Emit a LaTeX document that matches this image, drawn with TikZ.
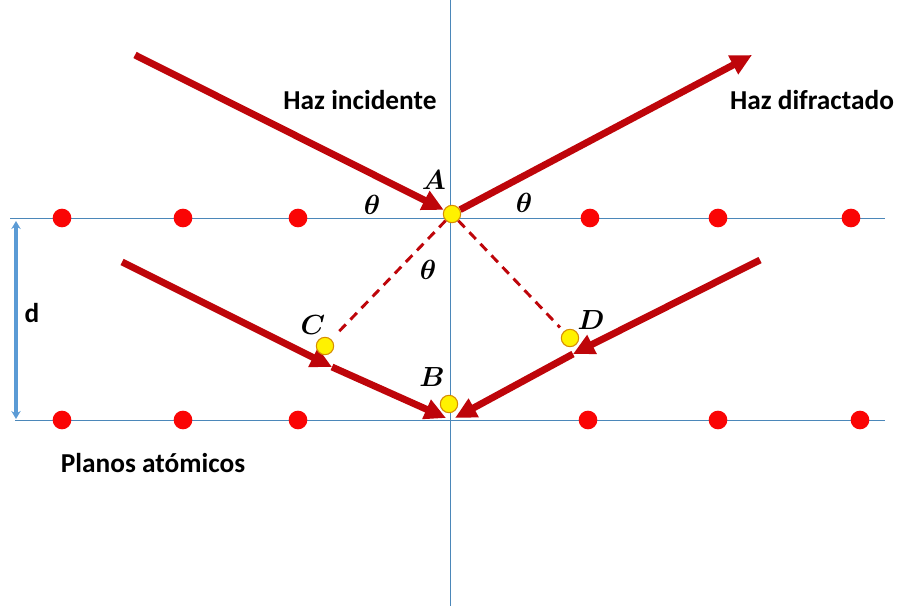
\documentclass[tikz,border=0pt]{standalone}
\usepackage{amsmath}
\usepackage{fontspec}
\setsansfont{Carlito}
\usetikzlibrary{arrows.meta}
\definecolor{rayRed}{RGB}{190,5,10}
\definecolor{dotRed}{RGB}{250,5,5}
\definecolor{planeBlue}{RGB}{75,135,185}
\definecolor{dBlue}{RGB}{91,155,213}
\definecolor{ptYellow}{RGB}{255,242,0}
\definecolor{ptEdge}{RGB}{215,140,0}
\pgfdeclarelayer{back}
\pgfsetlayers{back,main}

\begin{document}
\begin{tikzpicture}[x=0.75pt, y=-0.75pt,
  lbl/.style={font=\sffamily\bfseries\fontsize{20.5}{24}\selectfont},
  sym/.style={font=\fontsize{21}{24}\selectfont},
  atom/.style={circle, fill=dotRed, minimum size=14pt, inner sep=0pt},
  pt/.style={circle, fill=ptYellow, draw=ptEdge, line width=0.8pt, minimum size=13pt, inner sep=0pt},
  ray/.style={rayRed, line width=5.2pt, -{Triangle[length=16pt,width=15pt]}},
  diff/.style={rayRed, line width=2.2pt, dash pattern=on 7pt off 5pt},
  plane/.style={planeBlue, line width=0.6pt},
]
  \useasboundingbox (0,0) rectangle (901,606);

  % reflection points
  \node[pt] (A) at (452,214) {};
  \node[pt] (B) at (449,404) {};
  \node[pt] (C) at (325,346) {};
  \node[pt] (D) at (570,338) {};

  % atoms
  \foreach \x [count=\i] in {62,183,298,590,718,851}
    \node[atom] (t\i) at (\x,218) {};
  \foreach \x [count=\i] in {62,183,298,588,718,860}
    \node[atom] (b\i) at (\x,420) {};

  \coordinate (inS) at (135,55);
  \coordinate (outE) at (752,55);
  \coordinate (lowL) at (122,262);
  \coordinate (lowR) at (760,260);
  \coordinate (cTip) at (332,367);
  \coordinate (dTip) at (573,354);
  \coordinate (bL) at (446,418);
  \coordinate (bR) at (455,418);
  \coordinate (topL) at (10,218);
  \coordinate (topR) at (885,218);
  \coordinate (botL) at (15,420);
  \coordinate (botR) at (885,420);
  \coordinate (axT) at (450,0);
  \coordinate (axB) at (450,606);
  \coordinate (dT) at (16,221);
  \coordinate (dB) at (16,419);

  \begin{pgfonlayer}{back}
    \draw[plane] (topL) -- (topR);
    \draw[plane] (botL) -- (botR);
    \draw[plane] (axT) -- (axB);
    \draw[ray] (inS) -- (A);
    \draw[ray] (A) -- (outE);
    \draw[ray] (lowL) -- (cTip);
    \draw[ray] (cTip) -- (bL);
    \draw[ray] (lowR) -- (dTip);
    \draw[ray] (dTip) -- (bR);
  \end{pgfonlayer}

  \draw[diff, shorten >=4pt] (A) -- (C);
  \draw[diff, shorten >=4pt] (A) -- (D);

  \draw[dBlue, line width=2.6pt, {Stealth[length=6pt,width=7pt]}-{Stealth[length=6pt,width=7pt]}] (dT) -- (dB);

  \node[lbl] (inc) at (360,100) {Haz incidente};
  \node[lbl] (dif) at (812,100) {Haz difractado};
  \node[lbl] (pla) at (153,463) {Planos atómicos};
  \node[lbl] (dl) at (32,313) {d};

  \node[sym] (lA) at (434,180) {$\boldsymbol{A}$};
  \node[sym] (lB) at (432,377) {$\boldsymbol{B}$};
  \node[sym] (lC) at (313,325) {$\boldsymbol{C}$};
  \node[sym] (lD) at (591,320) {$\boldsymbol{D}$};
  \node[sym] (th1) at (372,205) {$\boldsymbol{\theta}$};
  \node[sym] (th2) at (524,203) {$\boldsymbol{\theta}$};
  \node[sym] (th3) at (428,270) {$\boldsymbol{\theta}$};
\end{tikzpicture}
\end{document}
